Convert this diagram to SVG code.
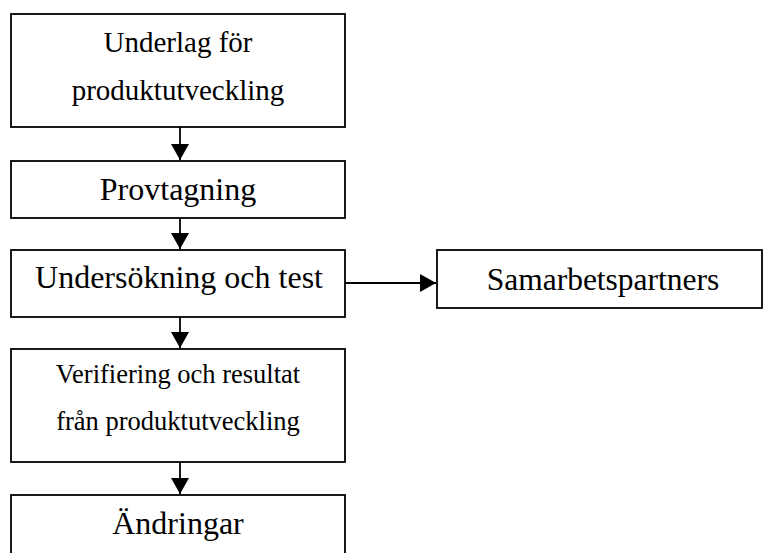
<svg xmlns="http://www.w3.org/2000/svg" width="763" height="553" viewBox="0 0 763 553">
<style>
.box{fill:#fff;stroke:#000;stroke-width:1.8}
.t{font-family:"Liberation Serif","Times New Roman",serif;fill:#000;text-anchor:middle}
.c{stroke:#000;stroke-width:1.8;fill:none;marker-end:url(#ah)}
</style>
<defs>
<marker id="ah" markerUnits="userSpaceOnUse" markerWidth="18" markerHeight="18" viewBox="0 0 16 18" refX="16" refY="9" orient="auto">
<path d="M0,0 L16,9 L0,18 Z" fill="#000"/>
</marker>
</defs>
<rect width="763" height="553" fill="#fff"/>
<g id="connectors">
<line class="c" x1="180" y1="127" x2="180" y2="160"/>
<line class="c" x1="180" y1="218" x2="180" y2="249"/>
<line class="c" x1="180" y1="317" x2="180" y2="348"/>
<line class="c" x1="180" y1="462" x2="180" y2="494"/>
<line class="c" x1="345" y1="283" x2="436" y2="283"/>
</g>
<g id="n1">
<rect class="box" x="11" y="14" width="334" height="113"/>
<text class="t" x="178" y="52" font-size="29">Underlag för</text>
<text class="t" x="178" y="100" font-size="29">produktutveckling</text>
</g>
<g id="n2">
<rect class="box" x="11" y="161" width="334" height="57"/>
<text class="t" x="178" y="200" font-size="32">Provtagning</text>
</g>
<g id="n3">
<rect class="box" x="11" y="250" width="334" height="67"/>
<text class="t" x="179" y="288" font-size="32">Undersökning och test</text>
</g>
<g id="n4">
<rect class="box" x="11" y="349" width="334" height="113"/>
<text class="t" x="178" y="383" font-size="26.5">Verifiering och resultat</text>
<text class="t" x="178" y="430" font-size="26.5">från produktutveckling</text>
</g>
<g id="n5">
<rect class="box" x="11" y="495" width="334" height="80"/>
<text class="t" x="178" y="534" font-size="32">Ändringar</text>
</g>
<g id="n6">
<rect class="box" x="437" y="250" width="325" height="58"/>
<text class="t" x="603" y="290" font-size="31.5">Samarbetspartners</text>
</g>
</svg>
